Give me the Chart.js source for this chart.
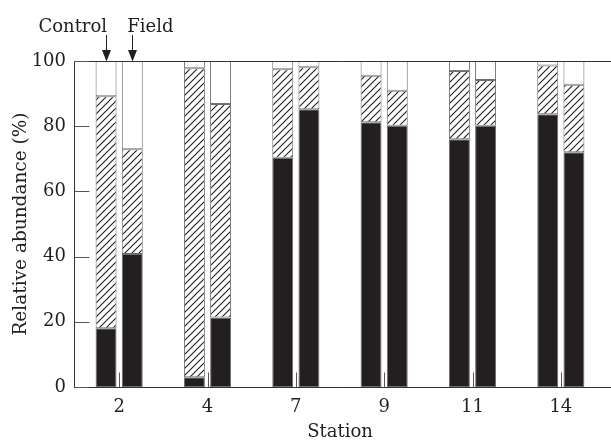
<!DOCTYPE html>
<html>
<head>
<meta charset="utf-8">
<script src="https://cdn.jsdelivr.net/npm/chart.js@4.4.1/dist/chart.umd.min.js"></script>
<style>
  html, body { margin: 0; padding: 0; background: #fff; }
  #wrap { width: 611px; height: 444px; position: relative; }
</style>
</head>
<body>
<div id="wrap"><canvas id="c" width="611" height="444"></canvas></div>
<script>
// ---- Data ----
const stations = ['2', '4', '7', '9', '11', '14'];
const yTicks = [0, 20, 40, 60, 80, 100];
// segment sizes (%), bottom -> top
const controlBlack   = [18.0,  3.0, 70.3, 81.2, 76.0, 83.7];
const controlHatched = [71.2, 94.8, 27.2, 14.3, 20.9, 14.9];
const controlWhite   = [10.8,  2.2,  2.5,  4.5,  3.1,  1.4];
const fieldBlack     = [40.8, 21.3, 85.2, 80.1, 80.1, 72.0];
const fieldHatched   = [32.1, 65.5, 12.9, 10.8, 14.1, 20.7];
const fieldWhite     = [27.1, 13.2,  1.9,  9.1,  5.8,  7.3];
const groupLabels = ['Control', 'Field'];

const FONT = "'DejaVu Serif', 'Liberation Serif', serif";
const INK = '#231f20';
const EDGE = '#6e6e6e';

function hatch() {
  const s = 7;
  const cv = document.createElement('canvas');
  cv.width = s; cv.height = s;
  const g = cv.getContext('2d');
  g.fillStyle = '#ffffff';
  g.fillRect(0, 0, s, s);
  g.strokeStyle = '#1e1e1e';
  g.lineWidth = 1.1;
  g.beginPath();
  g.moveTo(0, s); g.lineTo(s, 0);
  g.moveTo(-1, 1); g.lineTo(1, -1);
  g.moveTo(s - 1, s + 1); g.lineTo(s + 1, s - 1);
  g.stroke();
  return document.getElementById('c').getContext('2d').createPattern(cv, 'repeat');
}
const hatchFill = hatch();

function ds(label, data, stack, fill) {
  return {
    label, data, stack,
    backgroundColor: fill,
    borderColor: EDGE,
    borderWidth: 1,
    borderSkipped: false,
    categoryPercentage: 0.593,
    barPercentage: 0.80
  };
}

const framePlugin = {
  id: 'frame',
  afterDraw(chart) {
    const ctx = chart.ctx;
    const a = chart.chartArea;
    const xs = chart.scales.x, ys = chart.scales.y;
    const W = chart.width;
    ctx.save();
    ctx.strokeStyle = '#333';
    ctx.lineWidth = 1;
    const L = Math.round(a.left) - 0.5;
    const T = Math.round(ys.getPixelForValue(100)) + 0.5;
    const B = Math.round(ys.getPixelForValue(0)) + 0.5;
    ctx.beginPath();
    ctx.moveTo(L, T); ctx.lineTo(W, T);
    ctx.moveTo(L, B); ctx.lineTo(W, B);
    ctx.moveTo(L, T); ctx.lineTo(L, B);
    ctx.stroke();
    // inward y ticks
    ctx.strokeStyle = '#555';
    ctx.beginPath();
    yTicks.forEach(v => {
      const y = Math.round(ys.getPixelForValue(v)) + 0.5;
      ctx.moveTo(L, y); ctx.lineTo(L + 15, y);
    });
    ctx.stroke();
    // inward x ticks at category centres
    ctx.beginPath();
    stations.forEach((s, i) => {
      const x = Math.round(xs.getPixelForValue(i)) + 0.5;
      ctx.moveTo(x, B); ctx.lineTo(x, B - 15);
    });
    ctx.stroke();
    // group arrows over first station
    const metaC = chart.getDatasetMeta(2).data[0];
    const metaF = chart.getDatasetMeta(5).data[0];
    const arrows = [[metaC.x, groupLabels[0], 'right', 1], [metaF.x, groupLabels[1], 'left', -5]];
    ctx.fillStyle = INK;
    ctx.strokeStyle = INK;
    ctx.font = "18px " + FONT;
    ctx.textBaseline = 'alphabetic';
    arrows.forEach(([x, txt, al, dx]) => {
      const xx = Math.round(x) + 0.5;
      ctx.beginPath();
      ctx.moveTo(xx, 35); ctx.lineTo(xx, 51);
      ctx.stroke();
      ctx.beginPath();
      ctx.moveTo(xx - 4.5, 50); ctx.lineTo(xx + 4.5, 50); ctx.lineTo(xx, T);
      ctx.closePath(); ctx.fill();
      ctx.textAlign = al;
      ctx.fillText(txt, x + dx, 32);
    });
    ctx.restore();
  }
};

new Chart(document.getElementById('c'), {
  type: 'bar',
  data: {
    labels: stations,
    datasets: [
      ds('Control black', controlBlack, 'control', INK),
      ds('Control hatched', controlHatched, 'control', hatchFill),
      ds('Control white', controlWhite, 'control', '#ffffff'),
      ds('Field black', fieldBlack, 'field', INK),
      ds('Field hatched', fieldHatched, 'field', hatchFill),
      ds('Field white', fieldWhite, 'field', '#ffffff')
    ]
  },
  options: {
    responsive: false,
    animation: false,
    devicePixelRatio: 1,
    layout: { padding: { top: 61, right: 6, left: 0, bottom: 0 } },
    plugins: { legend: { display: false }, tooltip: { enabled: false } },
    scales: {
      x: {
        stacked: true,
        grid: { display: false, drawTicks: false },
        border: { display: false },
        ticks: { color: INK, font: { family: FONT, size: 18 }, padding: 10 },
        title: { display: true, text: 'Station', color: INK, font: { family: FONT, size: 18 }, padding: { top: 0, bottom: 1 } },
        afterFit(s) { s.height = 57; }
      },
      y: {
        stacked: true,
        min: 0, max: 100,
        afterBuildTicks(s) { s.ticks = yTicks.map(v => ({ value: v })); },
        grid: { display: false, drawTicks: false },
        border: { display: false },
        ticks: { color: INK, font: { family: FONT, size: 18 }, padding: 9 },
        title: { display: true, text: 'Relative abundance (%)', color: INK, font: { family: FONT, size: 18.5 }, padding: { top: 10, bottom: 0 } },
        afterFit(s) { s.width = 75; }
      }
    }
  },
  plugins: [framePlugin]
});
</script>
</body>
</html>
